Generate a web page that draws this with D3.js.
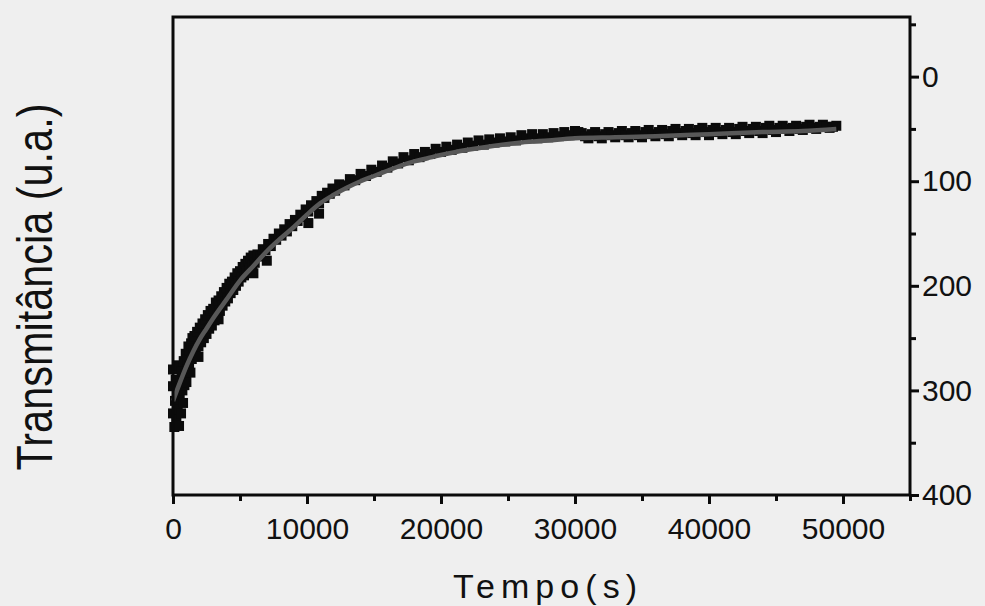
<!DOCTYPE html>
<html>
<head>
<meta charset="utf-8">
<script src="https://cdn.jsdelivr.net/npm/d3@7"></script>
<style>
  html, body { margin: 0; padding: 0; background: #efefef; }
  #chart { width: 985px; height: 606px; }
  text { font-family: "Liberation Sans", Arial, sans-serif; fill: #111; }
</style>
</head>
<body>
<div id="chart"></div>
<script>
// measured points (tempo in s, transmitancia in u.a.)
const scatterPoints = [
  [0, 322], [0, 296], [0, 280], [100, 335], [150, 310], [200, 290], [250, 328], [300, 300],
  [350, 318], [400, 276], [450, 334], [500, 305], [550, 290], [600, 322], [650, 282], [700, 300],
  [750, 312], [800, 272], [850, 295], [900, 285], [950, 265], [1000, 292], [1050, 270], [1100, 280],
  [1150, 258], [1200, 276], [1250, 262], [1300, 283], [1350, 255], [1400, 270], [1450, 250], [1500, 262],
  [1600, 248], [1700, 264], [1800, 244], [1900, 258], [2000, 240], [2100, 254], [2200, 236], [2300, 250],
  [2400, 232], [2500, 246], [2600, 228], [2700, 241], [2800, 224], [2900, 238], [3000, 222], [3100, 233],
  [3200, 216], [3300, 228], [3400, 214], [3500, 224], [3600, 210], [3700, 219], [3800, 206], [3900, 215],
  [4000, 202], [4100, 212], [4200, 198], [4300, 207], [4400, 196], [4500, 204], [4600, 192], [4700, 200],
  [4800, 188], [4900, 196], [5000, 186], [5100, 192], [5200, 182], [5300, 190], [5400, 179], [5500, 186],
  [5600, 176], [5700, 183], [5800, 173], [5900, 181], [6000, 171], [6100, 178],
  [6300, 170], [6500, 172], [6700, 165], [6900, 166], [7100, 160], [7300, 162], [7500, 155], [7700, 156],
  [7900, 150], [8100, 152], [8300, 146], [8500, 148], [8700, 141], [8900, 143], [9100, 137], [9300, 138],
  [9500, 132], [9700, 134], [9900, 127], [10100, 129], [10300, 123], [10500, 124], [10700, 119], [10900, 121],
  [11100, 114], [11300, 116], [11500, 111], [11700, 112], [11900, 107], [12100, 109],
  [1900, 268], [3400, 232], [6000, 188], [7000, 176], [10100, 140], [10900, 131],
  [12400, 103], [12800, 104], [13200, 98], [13600, 99], [14000, 93], [14400, 95], [14800, 89], [15200, 91],
  [15600, 85], [16000, 87], [16400, 81], [16800, 83], [17200, 77], [17600, 80], [18000, 74], [18400, 77],
  [18800, 72], [19200, 74], [19600, 69], [20000, 72], [20400, 67], [20800, 70], [21200, 65], [21600, 68],
  [22000, 63], [22400, 66], [22800, 61], [23200, 65], [23600, 60], [24000, 63], [24400, 59], [24800, 62],
  [25200, 58], [25600, 61], [26000, 56], [26400, 59], [26800, 55], [27200, 59], [27600, 55], [28000, 58],
  [28400, 54], [28800, 57], [29200, 53], [29600, 56], [30000, 52],
  [30500, 54], [31000, 59], [31500, 53], [32000, 59], [32500, 53], [33000, 58], [33500, 52], [34000, 58],
  [34500, 52], [35000, 58], [35500, 51], [36000, 57], [36500, 51], [37000, 57], [37500, 50], [38000, 56],
  [38500, 50], [39000, 56], [39500, 49], [40000, 56], [40500, 49], [41000, 55], [41500, 49], [42000, 55],
  [42500, 48], [43000, 54], [43500, 48], [44000, 54], [44500, 47], [45000, 53], [45500, 47], [46000, 52],
  [46500, 47], [47000, 51], [47500, 46], [48000, 50], [48500, 46], [49000, 49], [49500, 47],
  [30250, 53], [30750, 57], [31250, 55], [31750, 57], [32250, 55], [32750, 56], [33250, 54], [33750, 56],
  [34250, 54], [34750, 56], [35250, 53], [35750, 55], [36250, 53], [36750, 55], [37250, 52], [37750, 54],
  [38250, 52], [38750, 54], [39250, 51], [39750, 53], [40250, 51], [40750, 53], [41250, 51], [41750, 53],
  [42250, 50], [42750, 52], [43250, 50], [43750, 52], [44250, 49], [44750, 51], [45250, 49], [45750, 50],
  [46250, 49], [46750, 50], [47250, 48], [47750, 49], [48250, 48], [48750, 48], [49250, 48]
];

// fitted curve
const fitTime = [0, 500, 1000, 1500, 2000, 2500, 3000, 4000, 5000, 6000, 7000, 8000, 9000, 10000,
  11000, 12000, 13000, 14000, 15000, 16000, 17000, 18000, 19000, 20000, 22000, 24000, 26000, 28000,
  30000, 33000, 36000, 40000, 44000, 47000, 49500];
const fitValue = [310, 293, 277, 263, 251, 241, 231, 213, 195, 181, 167, 155, 144, 132,
  121, 113, 106, 100, 95, 90, 85, 81, 78, 75, 70, 66, 63, 61,
  59, 58, 57, 55, 53, 52, 50];

const xTicks = [0, 10000, 20000, 30000, 40000, 50000];
const xMinorTicks = [5000, 15000, 25000, 35000, 45000, 55000];
const yTicks = [0, 100, 200, 300, 400];
const yMinorTicks = [-50, 50, 150, 250, 350];

const xLabel = "Tempo(s)";
const yLabel = "Transmitância (u.a.)";

function drawChart() {
  const width = 985;
  const height = 606;
  const box = { left: 173, right: 910, top: 17, bottom: 495 };

  const svg = d3.select("#chart")
    .append("svg")
    .attr("width", width)
    .attr("height", height)
    .attr("viewBox", `0 0 ${width} ${height}`);

  svg.append("rect")
    .attr("width", width)
    .attr("height", height)
    .attr("fill", "#efefef");

  const x = d3.scaleLinear().domain([0, 55000]).range([box.left, box.right]);
  const y = d3.scaleLinear().domain([-57, 400]).range([box.top, box.bottom]);

  // scatter squares, dense enough to merge into a band
  const sq = 10;
  svg.append("g")
    .selectAll("rect.pt")
    .data(scatterPoints)
    .join("rect")
    .attr("class", "pt")
    .attr("x", (d) => x(d[0]) - sq / 2)
    .attr("y", (d) => y(d[1]) - sq / 2)
    .attr("width", sq)
    .attr("height", sq)
    .attr("fill", "#0b0b0b");

  // fit line
  const fitData = fitTime.map((t, i) => [t, fitValue[i]]);
  const line = d3.line()
    .x((d) => x(d[0]))
    .y((d) => y(d[1]))
    .curve(d3.curveMonotoneX);

  svg.append("path")
    .datum(fitData)
    .attr("d", line)
    .attr("fill", "none")
    .attr("stroke", "#585858")
    .attr("stroke-width", 4.5);

  // frame
  svg.append("rect")
    .attr("x", box.left)
    .attr("y", box.top)
    .attr("width", box.right - box.left)
    .attr("height", box.bottom - box.top)
    .attr("fill", "none")
    .attr("stroke", "#0a0a0a")
    .attr("stroke-width", 3);

  // bottom axis
  const xAxis = svg.append("g")
    .attr("transform", `translate(0,${box.bottom})`)
    .call(d3.axisBottom(x).tickValues(xTicks).tickSize(9).tickPadding(14).tickFormat(d3.format("d")));
  xAxis.select(".domain").remove();
  xAxis.selectAll(".tick line").attr("stroke", "#0a0a0a").attr("stroke-width", 3);
  xAxis.selectAll(".tick text")
    .attr("font-size", 30)
    .attr("fill", "#111")
    .style("font-family", "'Liberation Sans', Arial, sans-serif");

  const xMinor = svg.append("g")
    .attr("transform", `translate(0,${box.bottom})`)
    .call(d3.axisBottom(x).tickValues(xMinorTicks).tickSize(6).tickFormat(""));
  xMinor.select(".domain").remove();
  xMinor.selectAll(".tick line").attr("stroke", "#0a0a0a").attr("stroke-width", 3);

  // right axis
  const yAxis = svg.append("g")
    .attr("transform", `translate(${box.right},0)`)
    .call(d3.axisRight(y).tickValues(yTicks).tickSize(9).tickPadding(3).tickFormat(d3.format("d")));
  yAxis.select(".domain").remove();
  yAxis.selectAll(".tick line").attr("stroke", "#0a0a0a").attr("stroke-width", 3);
  yAxis.selectAll(".tick text")
    .attr("font-size", 30)
    .attr("fill", "#111")
    .style("font-family", "'Liberation Sans', Arial, sans-serif");

  const yMinor = svg.append("g")
    .attr("transform", `translate(${box.right},0)`)
    .call(d3.axisRight(y).tickValues(yMinorTicks).tickSize(6).tickFormat(""));
  yMinor.select(".domain").remove();
  yMinor.selectAll(".tick line").attr("stroke", "#0a0a0a").attr("stroke-width", 3);

  // axis titles
  svg.append("text")
    .attr("x", 545)
    .attr("y", 598)
    .attr("text-anchor", "middle")
    .attr("font-size", 34)
    .attr("textLength", 184)
    .attr("lengthAdjust", "spacing")
    .text(xLabel);

  svg.append("text")
    .attr("transform", "translate(52,287) rotate(-90)")
    .attr("text-anchor", "middle")
    .attr("font-size", 50)
    .attr("textLength", 367)
    .attr("lengthAdjust", "spacingAndGlyphs")
    .text(yLabel);
}

drawChart();
</script>
</body>
</html>
